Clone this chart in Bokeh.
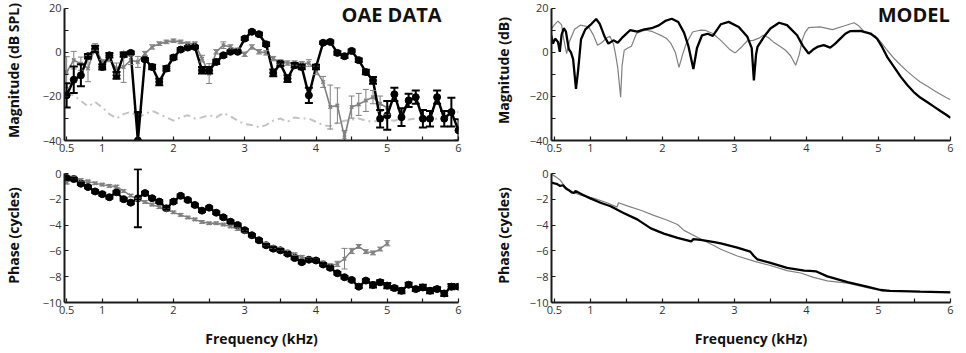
from bokeh.plotting import figure
from bokeh.models import Range1d, FixedTicker, Whisker, TeeHead, ColumnDataSource, Label
from bokeh.layouts import column, row
from bokeh.embed import file_html
from bokeh.resources import INLINE

# ---------------- data ----------------
oae_freq = [0.5, 0.6, 0.7, 0.8, 0.9, 1.0, 1.1, 1.2, 1.3, 1.4,
            1.5, 1.6, 1.7, 1.8, 1.9, 2.0, 2.1, 2.2, 2.3, 2.4,
            2.5, 2.6, 2.7, 2.8, 2.9, 3.0, 3.1, 3.2, 3.3, 3.4,
            3.5, 3.6, 3.7, 3.8, 3.9, 4.0, 4.1, 4.2, 4.3, 4.4,
            4.5, 4.6, 4.7, 4.8, 4.9, 5.0, 5.1, 5.2, 5.3, 5.4,
            5.5, 5.6, 5.7, 5.8, 5.9, 6.0]

oae_mag_black = [-19.5, -12.4, -10.4, -1.7, 1.6, -6.6, -1.3, -10.4, -1.0, -0.2,
                 -40.0, -3.2, -6.6, -13.4, -7.3, -2.3, 1.3, 2.2, 2.5, -8.1,
                 -8.1, -4.3, -1.3, 0.3, 0.3, 6.3, 9.4, 8.3, 3.7, -9.3,
                 -5.1, -11.9, -5.8, -6.6, -19.5, -6.6, 4.4, 4.8, -0.2, -1.7,
                 0.7, -3.5, -8.9, -12.7, -30.1, -28.6, -19.0, -29.4, -21.8, -20.3,
                 -30.1, -30.1, -20.3, -30.1, -27.1, -35.4]
oae_mag_black_err = [5.5, 6.0, 5.0, 1.0, 1.5, 1.2, 1.0, 1.5, 1.0, 0.6,
                     13.0, 0.6, 1.0, 1.5, 1.0, 0.8, 0.6, 0.6, 0.6, 1.5,
                     1.5, 1.0, 0.6, 0.6, 0.6, 0.6, 0.6, 0.6, 0.8, 1.5,
                     1.0, 1.5, 1.0, 1.0, 3.5, 1.0, 0.6, 0.6, 0.8, 0.8,
                     0.6, 0.8, 1.0, 1.5, 4.0, 6.5, 3.0, 4.0, 3.0, 3.0,
                     4.0, 3.5, 3.0, 3.5, 6.5, 5.0]

gray_freq = [0.5, 0.6, 0.7, 0.8, 0.9, 1.0, 1.1, 1.2, 1.3, 1.4,
             1.5, 1.6, 1.7, 1.8, 1.9, 2.0, 2.1, 2.2, 2.3, 2.4,
             2.5, 2.6, 2.7, 2.8, 2.9, 3.0, 3.1, 3.2, 3.3, 3.4,
             3.5, 3.6, 3.7, 3.8, 3.9, 4.0, 4.1, 4.2, 4.3, 4.4,
             4.5, 4.6, 4.7, 4.8, 4.9, 5.0]
oae_mag_gray = [-8.9, -3.5, -5.1, -7.3, 2.5, -4.3, -3.2, -7.3, -6.6, -3.5,
                -4.3, -0.5, 2.5, 4.0, 4.8, 5.3, 4.8, 4.0, 4.0, -2.8,
                -9.6, 0.3, 3.3, 2.5, 1.0, -0.8, 2.5, 0.3, -0.2, -2.8,
                -4.3, -4.8, -4.8, -5.1, -4.8, -8.1, -13.4, -24.8, -24.1, -38.5,
                -24.8, -23.6, -21.8, -20.3, -23.3, -25.1]
oae_mag_gray_err = [7.0, 4.0, 3.0, 6.0, 1.5, 1.0, 1.0, 2.5, 7.0, 2.0,
                    2.5, 1.0, 1.0, 0.8, 0.8, 0.8, 0.8, 0.8, 0.8, 1.5,
                    4.5, 1.0, 1.5, 1.0, 1.0, 1.0, 1.0, 1.0, 1.0, 1.0,
                    1.0, 1.0, 1.0, 1.0, 1.5, 2.0, 2.5, 10.0, 8.0, 3.0,
                    5.0, 5.0, 5.0, 3.0, 3.5, 3.0]

noise_floor = [-18.5, -19.5, -22.0, -24.5, -22.5, -25.0, -28.0, -30.0, -28.0, -27.0,
               -29.5, -28.0, -26.5, -28.0, -29.5, -31.0, -29.5, -28.5, -30.0, -29.5,
               -28.5, -29.5, -27.5, -29.0, -31.0, -32.5, -33.0, -34.0, -33.0, -31.0,
               -30.0, -31.5, -29.5, -30.0, -30.0, -31.5, -33.0, -33.5, -32.0, -31.0,
               -30.5, -30.0, -31.0, -31.5, -31.0, -30.5, -31.0, -30.0, -30.5, -30.0,
               -30.0, -31.0, -30.0, -29.0, -28.0, -27.0]

oae_phase_black = [-0.34, -0.42, -0.78, -1.04, -1.38, -1.59, -1.83, -1.44, -1.98, -2.25,
                   -1.91, -1.51, -1.91, -2.17, -2.69, -2.17, -1.72, -2.04, -2.43, -2.87,
                   -2.64, -3.03, -3.39, -3.73, -3.99, -4.39, -4.78, -5.17, -5.56, -5.82,
                   -5.95, -6.21, -6.55, -6.87, -6.68, -6.74, -7.05, -7.31, -7.73, -8.04,
                   -8.25, -8.77, -8.30, -8.64, -8.43, -8.69, -8.88, -9.09, -8.62, -8.96,
                   -8.83, -9.09, -8.96, -9.30, -8.77, -8.77]
oae_phase_black_err = [0.1, 0.1, 0.1, 0.1, 0.1, 0.1, 0.1, 0.1, 0.1, 0.1,
                       2.25, 0.1, 0.1, 0.1, 0.1, 0.1, 0.1, 0.1, 0.1, 0.1,
                       0.1, 0.1, 0.1, 0.1, 0.1, 0.1, 0.1, 0.1, 0.1, 0.1,
                       0.1, 0.1, 0.1, 0.1, 0.1, 0.1, 0.1, 0.1, 0.1, 0.1,
                       0.1, 0.1, 0.1, 0.2, 0.15, 0.2, 0.15, 0.2, 0.15, 0.15,
                       0.2, 0.2, 0.15, 0.2, 0.2, 0.15]

oae_phase_gray = [-0.7, -0.3, -0.5, -0.6, -0.75, -0.85, -0.95, -1.0, -1.35, -1.7,
                  -2.0, -2.2, -2.4, -2.6, -2.8, -3.0, -3.2, -3.4, -3.55, -3.75,
                  -3.85, -3.85, -3.95, -4.1, -4.3, -4.5, -4.8, -5.15, -5.45, -5.7,
                  -5.85, -6.05, -6.25, -6.45, -6.6, -6.7, -6.9, -7.1, -7.0, -6.6,
                  -6.0, -5.65, -6.05, -6.15, -5.85, -5.4]
oae_phase_gray_err = [0.1, 0.1, 0.1, 0.1, 0.1, 0.1, 0.1, 0.1, 0.1, 0.1,
                      0.1, 0.1, 0.1, 0.1, 0.1, 0.1, 0.1, 0.1, 0.1, 0.1,
                      0.1, 0.1, 0.1, 0.1, 0.1, 0.1, 0.1, 0.1, 0.1, 0.1,
                      0.1, 0.1, 0.1, 0.1, 0.1, 0.1, 0.1, 0.1, 0.2, 0.8,
                      0.2, 0.15, 0.15, 0.15, 0.15, 0.2]

model_mag_black_f = [0.45, 0.48, 0.51, 0.55, 0.575, 0.60, 0.63, 0.66, 0.70, 0.73,
                     0.76, 0.80, 0.83, 0.87, 0.93, 1.00, 1.08, 1.13, 1.20, 1.25,
                     1.32, 1.38, 1.45, 1.55, 1.65, 1.75, 1.85, 1.95, 2.05, 2.13,
                     2.22, 2.30, 2.36, 2.43, 2.48, 2.55, 2.63, 2.70, 2.81, 2.92,
                     3.06, 3.18, 3.24, 3.27, 3.30, 3.32, 3.41, 3.50, 3.62, 3.73,
                     3.87, 3.95, 4.03, 4.10, 4.15, 4.24, 4.33, 4.40, 4.47, 4.54,
                     4.61, 4.75, 4.89, 4.98, 5.05, 5.12, 5.22, 5.31, 5.40, 5.49,
                     5.58, 5.68, 5.77, 5.86, 5.94, 6.00]
model_mag_black = [8.6, 4.0, 6.3, 4.8, 0.3, 8.0, 11.0, 9.5, 1.5, 0.0,
                   -3.0, -16.5, -8.0, 6.0, 10.5, 12.5, 15.2, 13.0, 7.0, 4.0,
                   5.5, 4.4, 7.0, 10.1, 9.5, 10.5, 11.0, 12.3, 14.5, 15.3,
                   13.8, 9.0, 3.0, -7.5, 2.0, 7.8, 8.5, 7.5, 12.8, 13.9,
                   11.6, 7.1, 2.0, -12.7, -1.0, 2.5, 7.1, 10.9, 13.5, 12.4,
                   7.8, 3.0, -0.5, 1.5, 2.5, 3.3, 2.2, 4.0, 6.3, 8.5,
                   9.7, 9.8, 8.6, 6.3, 2.5, -2.0, -6.8, -11.1, -14.8, -18.0,
                   -20.5, -22.6, -24.6, -26.6, -28.3, -29.7]

model_mag_gray_f = [0.45, 0.50, 0.55, 0.60, 0.63, 0.67, 0.71, 0.78, 0.86, 0.93,
                    0.98, 1.04, 1.10, 1.16, 1.22, 1.27, 1.32, 1.35, 1.38, 1.42,
                    1.44, 1.47, 1.52, 1.57, 1.64, 1.72, 1.78, 1.85, 1.92, 2.00,
                    2.06, 2.12, 2.18, 2.23, 2.28, 2.33, 2.42, 2.52, 2.60, 2.70,
                    2.81, 2.93, 3.01, 3.10, 3.18, 3.26, 3.34, 3.40, 3.47, 3.54,
                    3.62, 3.71, 3.78, 3.85, 3.90, 3.94, 3.98, 4.03, 4.19, 4.36,
                    4.52, 4.66, 4.73, 4.80, 4.88, 4.96, 5.04, 5.12, 5.21, 5.31,
                    5.40, 5.49, 5.58, 5.68, 5.77, 5.86, 5.94, 6.00]
model_mag_gray = [10.4, 12.5, 14.2, 12.5, 6.0, -0.5, 5.0, 10.5, 12.4, 12.0,
                  11.4, 8.0, 3.3, 4.5, 6.5, 7.4, 4.0, -1.0, -7.0, -20.3,
                  -6.0, 1.0, 2.0, 2.8, 8.6, 9.8, 10.1, 9.6, 8.6, 7.4,
                  6.3, 4.0, 0.0, -6.8, -1.0, 4.0, 9.3, 10.1, 10.0, 8.6,
                  5.5, 1.5, -0.2, 2.5, 5.3, 5.5, 6.5, 7.8, 6.8, 4.8,
                  3.0, 1.0, -1.5, -5.8, -1.0, 5.6, 9.0, 11.3, 11.6, 10.4,
                  12.0, 13.5, 12.0, 9.4, 8.4, 7.4, 4.5, 1.0, -2.5, -5.8,
                  -8.6, -11.1, -13.4, -15.4, -17.3, -19.0, -20.5, -21.5]

model_phase_black_f = [0.45, 0.50, 0.53, 0.58, 0.62, 0.66, 0.70, 0.74, 0.77, 0.79,
                       0.82, 0.90, 1.00, 1.14, 1.28, 1.46, 1.65, 1.84, 2.02, 2.21,
                       2.40, 2.43, 2.53, 2.72, 2.81, 3.04, 3.22, 3.27, 3.32, 3.50,
                       3.73, 3.97, 4.05, 4.13, 4.29, 4.57, 4.84, 5.03, 5.16, 5.58,
                       6.00]
model_phase_black = [-0.68, -0.75, -0.79, -0.95, -0.90, -1.15, -1.28, -1.45, -1.50, -1.36,
                     -1.42, -1.65, -1.92, -2.26, -2.53, -3.05, -3.55, -4.25, -4.65, -4.98,
                     -5.26, -5.08, -5.14, -5.32, -5.42, -5.74, -6.05, -6.39, -6.66, -6.92,
                     -7.32, -7.53, -7.55, -7.58, -7.97, -8.42, -8.76, -9.03, -9.10, -9.16,
                     -9.21]

model_phase_gray_f = [0.45, 0.52, 0.58, 0.64, 0.69, 0.76, 0.86, 1.05, 1.23, 1.37,
                      1.39, 1.51, 1.70, 1.88, 2.06, 2.21, 2.30, 2.49, 2.72, 2.81,
                      3.04, 3.27, 3.50, 3.73, 3.92, 4.10, 4.29, 4.57, 4.84, 5.06,
                      5.58, 6.00]
model_phase_gray = [0.0, -0.25, -0.50, -0.95, -1.21, -1.45, -1.66, -1.92, -2.26, -2.60,
                    -2.26, -2.50, -2.84, -3.24, -3.60, -3.95, -4.40, -4.95, -5.60, -5.87,
                    -6.39, -6.79, -7.13, -7.53, -7.71, -8.05, -8.32, -8.50, -8.84, -9.10,
                    -9.16, -9.21]

x_ticks = [0.5, 1.0, 1.5, 2.0, 2.5, 3.0, 3.5, 4.0, 4.5, 5.0, 5.5, 6.0]
x_tick_labels = ["0.5", "1", "", "2", "", "3", "", "4", "", "5", "", "6"]
mag_ticks = [-40, -30, -20, -10, 0, 10, 20]
mag_tick_labels = ["\u221240", "", "\u221220", "", "0", "", "20"]
phase_ticks = [-10, -8, -6, -4, -2, 0]
phase_tick_labels = ["\u221210", "\u22128", "\u22126", "\u22124", "\u22122", "0"]

# ---------------- style ----------------
FONT = "Open Sans"
BLACK = "#000000"
GRAY = "#808080"
NOISE = "#c4c4c4"
AXC = "#1a1a1a"


def make_fig(w, h, yr, ybounds, x0, ticks, labels, bl, br, bt, bb, ylabel,
             xlabel=None, ystand=8):
    p = figure(width=w, height=h, x_range=Range1d(x0, 6.0), y_range=Range1d(*yr),
               output_backend="svg", toolbar_location=None,
               min_border_left=bl, min_border_right=br,
               min_border_top=bt, min_border_bottom=bb)
    p.outline_line_color = None
    p.grid.visible = False
    p.background_fill_color = "white"
    p.border_fill_color = "white"
    xa, ya = p.xaxis[0], p.yaxis[0]
    for ax in (xa, ya):
        ax.axis_line_width = 2
        ax.axis_line_color = AXC
        ax.major_tick_in = 4
        ax.major_tick_out = 0
        ax.major_tick_line_width = 1.2
        ax.major_tick_line_color = AXC
        ax.minor_tick_line_color = None
        ax.major_label_standoff = 3
        ax.major_label_text_font = FONT
        ax.major_label_text_font_size = "11px"
        ax.major_label_text_color = "#333333"
        ax.axis_label_text_font = FONT
        ax.axis_label_text_font_style = "bold"
        ax.axis_label_text_font_size = "14px"
        ax.axis_label_text_color = "#111111"
    xa.ticker = FixedTicker(ticks=x_ticks)
    xa.major_label_overrides = {t: l for t, l in zip(x_ticks, x_tick_labels)}
    ya.ticker = FixedTicker(ticks=ticks)
    ya.major_label_overrides = {t: l for t, l in zip(ticks, labels)}
    ya.bounds = ybounds
    ya.axis_label = ylabel
    ya.axis_label_standoff = ystand
    if xlabel:
        xa.axis_label = xlabel
        xa.axis_label_standoff = 12
    return p


def add_err(p, f, v, e, lo_lim, hi_lim, color, lw, head):
    up = [min(a + b, hi_lim) for a, b in zip(v, e)]
    lo = [max(a - b, lo_lim) for a, b in zip(v, e)]
    src = ColumnDataSource(dict(x=f, up=up, lo=lo))
    w = Whisker(source=src, base="x", upper="up", lower="lo", dimension="height",
                line_color=color, line_width=lw, level="glyph",
                upper_head=TeeHead(size=head, line_color=color, line_width=lw),
                lower_head=TeeHead(size=head, line_color=color, line_width=lw))
    p.add_layout(w)


MAG_RANGE = (-40, 23.6)
PH_RANGE = (-10, 0.4)

# ---------------- OAE magnitude ----------------
p1 = make_fig(478, 159, MAG_RANGE, (-40, 20), 0.47, mag_ticks, mag_tick_labels,
              58, 20, 0, 19, "Magnitude (dB SPL)", ystand=17)
p1.line(oae_freq, noise_floor, line_color=NOISE, line_width=2, line_dash="7 4 2 4")
p1.line(gray_freq, oae_mag_gray, line_color=GRAY, line_width=1.6)
add_err(p1, gray_freq, oae_mag_gray, oae_mag_gray_err, -40, 20, GRAY, 1, 6)
p1.scatter(gray_freq, oae_mag_gray, marker="x", size=5, line_color=GRAY, line_width=1.5)
p1.line(oae_freq, oae_mag_black, line_color=BLACK, line_width=2.5)
add_err(p1, oae_freq, oae_mag_black, oae_mag_black_err, -40, 20, BLACK, 2, 8)
p1.scatter(oae_freq, oae_mag_black, marker="circle", size=7, color=BLACK)
p1.add_layout(Label(x=5.06, y=17.3, text="OAE DATA", text_font=FONT,
                    text_font_style="bold", text_font_size="20px",
                    text_align="center", text_baseline="middle", text_color="#111111"))

# ---------------- MODEL magnitude ----------------
p2 = make_fig(488, 159, MAG_RANGE, (-40, 20), 0.46, mag_ticks, mag_tick_labels,
              73, 16, 0, 19, "Magnitude (dB)", ystand=14)
p2.line(model_mag_gray_f, model_mag_gray, line_color=GRAY, line_width=1.2)
p2.line(model_mag_black_f, model_mag_black, line_color=BLACK, line_width=2.3)
p2.add_layout(Label(x=5.99, y=17.3, text="MODEL", text_font=FONT,
                    text_font_style="bold", text_font_size="20px",
                    text_align="right", text_baseline="middle", text_color="#111111"))

# ---------------- OAE phase ----------------
p3 = make_fig(478, 194, PH_RANGE, (-10, 0), 0.47, phase_ticks, phase_tick_labels,
              58, 20, 9, 51, "Phase (cycles)", xlabel="Frequency (kHz)", ystand=17)
p3.line(gray_freq, oae_phase_gray, line_color=GRAY, line_width=1.4)
add_err(p3, gray_freq, oae_phase_gray, oae_phase_gray_err, -10, 0.4, GRAY, 1, 6)
p3.scatter(gray_freq, oae_phase_gray, marker="x", size=5, line_color=GRAY, line_width=1.5)
p3.line(oae_freq, oae_phase_black, line_color=BLACK, line_width=2.2)
add_err(p3, oae_freq, oae_phase_black, oae_phase_black_err, -10, 0.4, BLACK, 2, 8)
p3.scatter(oae_freq, oae_phase_black, marker="circle", size=7, color=BLACK)

# ---------------- MODEL phase ----------------
p4 = make_fig(488, 194, PH_RANGE, (-10, 0), 0.46, phase_ticks, phase_tick_labels,
              73, 16, 9, 51, "Phase (cycles)", xlabel="Frequency (kHz)", ystand=14)
p4.line(model_phase_gray_f, model_phase_gray, line_color=GRAY, line_width=1.2)
p4.line(model_phase_black_f, model_phase_black, line_color=BLACK, line_width=2.3)

layout = column(row(p1, p2), row(p3, p4))
open("out.html", "w").write(file_html(layout, INLINE))
